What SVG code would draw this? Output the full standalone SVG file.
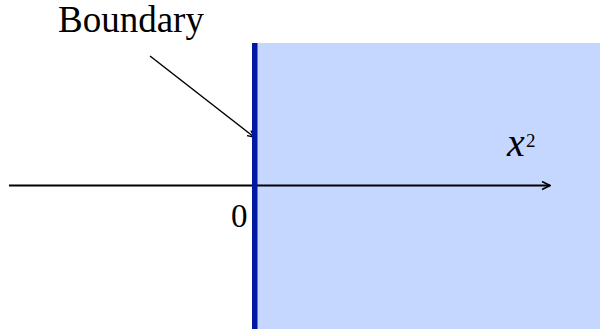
<svg xmlns="http://www.w3.org/2000/svg" width="600" height="329" viewBox="0 0 600 329">
  <defs>
    <marker id="open" viewBox="0 0 10 10" refX="9" refY="5" markerWidth="8" markerHeight="8" markerUnits="userSpaceOnUse" orient="auto">
      <path d="M1,1 L9,5 L1,9" fill="none" stroke="#000" stroke-width="1.6"/>
    </marker>
    <marker id="open2" viewBox="0 0 10 10" refX="9" refY="5" markerWidth="10" markerHeight="10" markerUnits="userSpaceOnUse" orient="auto">
      <path d="M1,1 L9,5 L1,9" fill="none" stroke="#000" stroke-width="1.6"/>
    </marker>
  </defs>
  <g id="region">
    <rect x="255" y="43" width="345" height="286" fill="#C5D6FF"/>
  </g>
  <g id="connectors" stroke="#000" fill="none">
    <line x1="9" y1="185.5" x2="550" y2="185.5" stroke-width="2" marker-end="url(#open2)"/>
    <line x1="150" y1="56" x2="254" y2="137" stroke-width="1.5" marker-end="url(#open)"/>
  </g>
  <g id="boundary">
    <rect x="252" y="43" width="5.5" height="286" fill="#0019A0"/>
  </g>
  <g font-family="'Liberation Serif', 'Times New Roman', serif" fill="#000">
    <g id="label-boundary">
      <text x="58" y="32" font-size="37">Boundary</text>
    </g>
    <g id="label-zero">
      <text x="231" y="226.5" font-size="33">0</text>
    </g>
    <g id="label-x2">
      <text x="507" y="156" font-size="40" font-style="italic">x</text>
      <text x="526" y="147" font-size="19">2</text>
    </g>
  </g>
</svg>
